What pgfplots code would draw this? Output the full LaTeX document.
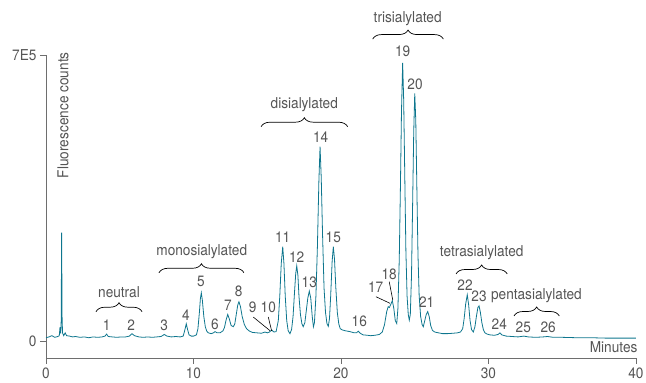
\documentclass[border=0pt]{standalone}
\usepackage{pgfplots}
\pgfplotsset{compat=1.18}
\usepackage{fontspec}
\setmainfont{TeX Gyre Heros}[FakeStretch=0.91]
\usetikzlibrary{decorations.pathreplacing}
\definecolor{trace}{RGB}{14,118,142}
\definecolor{txt}{RGB}{85,85,85}
\definecolor{axc}{RGB}{110,110,110}
\tikzset{lbl/.style={font=\fontsize{15}{15}\selectfont, text=txt, inner sep=0pt}}
\begin{document}
\begin{tikzpicture}[font=\fontsize{15}{15}\selectfont]
\path[use as bounding box] (-46pt,-25pt) rectangle (600pt,358pt);
\begin{axis}[
  scale only axis, width=590pt, height=303pt,
  xmin=0, xmax=40, ymin=-0.416, ymax=7,
  axis lines*=left,
  axis line style={axc, line width=0.7pt},
  xtick={0,10,20,30,40}, ytick={0,7}, yticklabels={0,7E5},
  tick align=outside, major tick length=6pt,
  tick style={axc, line width=0.7pt},
  /pgf/number format/assume math mode=true,
  ticklabel style={font=\fontsize{15}{15}\selectfont, text=txt},
  clip=false,
]
\addplot[trace, line width=0.8pt] coordinates {
(0,0.08) (0.2,0.1) (0.4,0.13) (0.6,0.09) (0.8,0.11) (0.9,0.13) (0.95,0.34) (1.0,0.18) (1.03,0.5) (1.06,2.65) (1.09,0.6) (1.12,0.2) (1.2,0.13) (1.3,0.2) (1.4,0.13) (1.6,0.12) (1.8,0.1) (2.0,0.11) (2.3,0.09) (2.6,0.1) (2.9,0.08) (3.2,0.1) (3.5,0.09) (3.8,0.1) (4.0,0.12) (4.11,0.17) (4.22,0.11) (4.5,0.1) (4.8,0.09) (5.1,0.1) (5.4,0.1) (5.65,0.12) (5.83,0.18) (6.0,0.13) (6.3,0.1) (6.6,0.09) (6.9,0.1) (7.2,0.09) (7.5,0.1) (7.8,0.11) (8.02,0.16) (8.2,0.12) (8.5,0.1) (8.8,0.11) (9.1,0.1) (9.3,0.12) (9.4,0.25) (9.51,0.42) (9.6,0.28) (9.7,0.15) (9.85,0.12) (10.0,0.12) (10.2,0.15) (10.3,0.3) (10.4,0.7) (10.47,1.05) (10.53,1.18) (10.6,1.0) (10.7,0.6) (10.8,0.35) (10.9,0.24) (11.0,0.2) (11.2,0.18) (11.35,0.2) (11.46,0.23) (11.6,0.2) (11.8,0.2) (12.0,0.25) (12.1,0.33) (12.2,0.5) (12.32,0.65) (12.42,0.55) (12.55,0.38) (12.7,0.35) (12.8,0.42) (12.9,0.65) (13.0,0.88) (13.08,0.96) (13.18,0.85) (13.3,0.6) (13.45,0.4) (13.6,0.3) (13.8,0.24) (14.0,0.21) (14.3,0.2) (14.6,0.19) (14.85,0.22) (15.0,0.2) (15.15,0.22) (15.3,0.27) (15.45,0.22) (15.6,0.23) (15.75,0.5) (15.85,1.1) (15.95,1.9) (16.05,2.31) (16.13,1.9) (16.22,1.1) (16.32,0.5) (16.42,0.25) (16.54,0.18) (16.65,0.28) (16.75,0.6) (16.85,1.2) (16.93,1.65) (17.0,1.84) (17.08,1.6) (17.15,1.1) (17.25,0.65) (17.35,0.42) (17.44,0.35) (17.55,0.45) (17.65,0.75) (17.75,1.05) (17.85,1.22) (17.95,1.05) (18.05,0.6) (18.13,0.35) (18.2,0.45) (18.3,1.1) (18.4,2.3) (18.5,3.9) (18.58,4.76) (18.66,4.0) (18.75,2.6) (18.85,1.3) (18.95,0.7) (19.05,0.42) (19.14,0.36) (19.22,0.55) (19.3,1.1) (19.4,1.95) (19.48,2.31) (19.56,2.0) (19.65,1.3) (19.75,0.7) (19.85,0.42) (19.95,0.3) (20.1,0.27) (20.3,0.25) (20.6,0.23) (20.9,0.2) (21.05,0.2) (21.17,0.24) (21.3,0.19) (21.5,0.15) (21.8,0.14) (22.0,0.13) (22.3,0.14) (22.6,0.16) (22.8,0.22) (22.95,0.4) (23.1,0.72) (23.2,0.84) (23.28,0.82) (23.38,0.9) (23.48,0.99) (23.58,0.8) (23.68,0.5) (23.78,0.43) (23.86,0.8) (23.95,2.0) (24.03,3.8) (24.1,5.6) (24.18,6.81) (24.25,5.9) (24.33,3.9) (24.4,2.2) (24.48,1.1) (24.56,0.65) (24.63,0.51) (24.7,0.65) (24.78,1.6) (24.85,3.2) (24.93,5.1) (25.0,6.06) (25.07,5.4) (25.15,3.6) (25.22,2.1) (25.3,1.1) (25.4,0.6) (25.5,0.4) (25.58,0.35) (25.68,0.5) (25.78,0.65) (25.88,0.72) (25.98,0.6) (26.08,0.38) (26.2,0.26) (26.35,0.22) (26.6,0.2) (26.9,0.18) (27.2,0.18) (27.6,0.19) (27.9,0.2) (28.1,0.22) (28.25,0.3) (28.35,0.55) (28.45,0.9) (28.56,1.13) (28.65,0.9) (28.75,0.5) (28.85,0.28) (28.97,0.22) (29.08,0.35) (29.18,0.6) (29.28,0.82) (29.36,0.86) (29.45,0.7) (29.55,0.45) (29.65,0.28) (29.76,0.2) (29.9,0.17) (30.1,0.15) (30.4,0.14) (30.65,0.16) (30.78,0.2) (30.9,0.15) (31.2,0.12) (31.6,0.11) (32.0,0.1) (32.4,0.12) (32.7,0.1) (33.2,0.09) (33.7,0.1) (34.0,0.11) (34.4,0.09) (35,0.09) (36,0.08) (37,0.08) (38,0.07) (39,0.07) (40,0.07)
};
% y label
\node[lbl, rotate=90, anchor=east] at (axis cs:1.15,7.07) {Fluorescence counts};
\node[lbl, anchor=east] at (axis cs:40.11,-0.154) {Minutes};
% group labels
\node[lbl] at (axis cs:4.95,1.20) {neutral};
\node[lbl] at (axis cs:10.56,2.186) {monosialylated};
\node[lbl] at (axis cs:17.51,5.776) {disialylated};
\node[lbl] at (axis cs:24.52,7.90) {trisialylated};
\node[lbl] at (axis cs:29.54,2.16) {tetrasialylated};
\node[lbl] at (axis cs:33.25,1.109) {pentasialylated};
% braces
\begin{scope}[black, line width=0.7pt, decoration={brace, amplitude=9pt}]
\draw[decorate] (axis cs:3.39,0.717) -- (axis cs:6.51,0.717);
\draw[decorate] (axis cs:7.66,1.67) -- (axis cs:13.42,1.67);
\draw[decorate] (axis cs:14.58,5.245) -- (axis cs:20.45,5.245);
\draw[decorate] (axis cs:22.15,7.39) -- (axis cs:26.94,7.39);
\draw[decorate] (axis cs:27.80,1.64) -- (axis cs:31.27,1.64);
\draw[decorate] (axis cs:31.73,0.612) -- (axis cs:34.80,0.612);
\end{scope}
% peak numbers
\node[lbl] at (axis cs:4.115,0.392) {1};
\node[lbl] at (axis cs:5.78,0.392) {2};
\node[lbl] at (axis cs:8.02,0.392) {3};
\node[lbl] at (axis cs:9.49,0.636) {4};
\node[lbl] at (axis cs:10.51,1.451) {5};
\node[lbl] at (axis cs:11.46,0.416) {6};
\node[lbl] at (axis cs:12.34,0.881) {7};
\node[lbl] at (axis cs:13.06,1.207) {8};
\node[lbl] at (axis cs:14.01,0.815) {9};
\node[lbl] at (axis cs:15.07,0.815) {10};
\node[lbl] at (axis cs:16.05,2.538) {11};
\node[lbl] at (axis cs:17.0,2.063) {12};
\node[lbl] at (axis cs:17.85,1.427) {13};
\node[lbl] at (axis cs:18.62,5.0) {14};
\node[lbl] at (axis cs:19.48,2.538) {15};
\node[lbl] at (axis cs:21.24,0.472) {16};
\node[lbl] at (axis cs:22.35,1.329) {17};
\node[lbl] at (axis cs:23.27,1.64) {18};
\node[lbl] at (axis cs:24.18,7.08) {19};
\node[lbl] at (axis cs:25.02,6.29) {20};
\node[lbl] at (axis cs:25.81,0.962) {21};
\node[lbl] at (axis cs:28.41,1.371) {22};
\node[lbl] at (axis cs:29.36,1.101) {23};
\node[lbl] at (axis cs:30.73,0.409) {24};
\node[lbl] at (axis cs:32.36,0.335) {25};
\node[lbl] at (axis cs:34.05,0.335) {26};
% leader lines
\begin{scope}[black, line width=0.6pt]
\draw (axis cs:14.05,0.587) -- (axis cs:15.19,0.252);
\draw (axis cs:15.07,0.587) -- (axis cs:15.30,0.245);
\draw (axis cs:22.37,1.084) -- (axis cs:23.32,0.923);
\draw (axis cs:23.27,1.451) -- (axis cs:23.51,1.003);
\end{scope}
\end{axis}
\end{tikzpicture}
\end{document}
